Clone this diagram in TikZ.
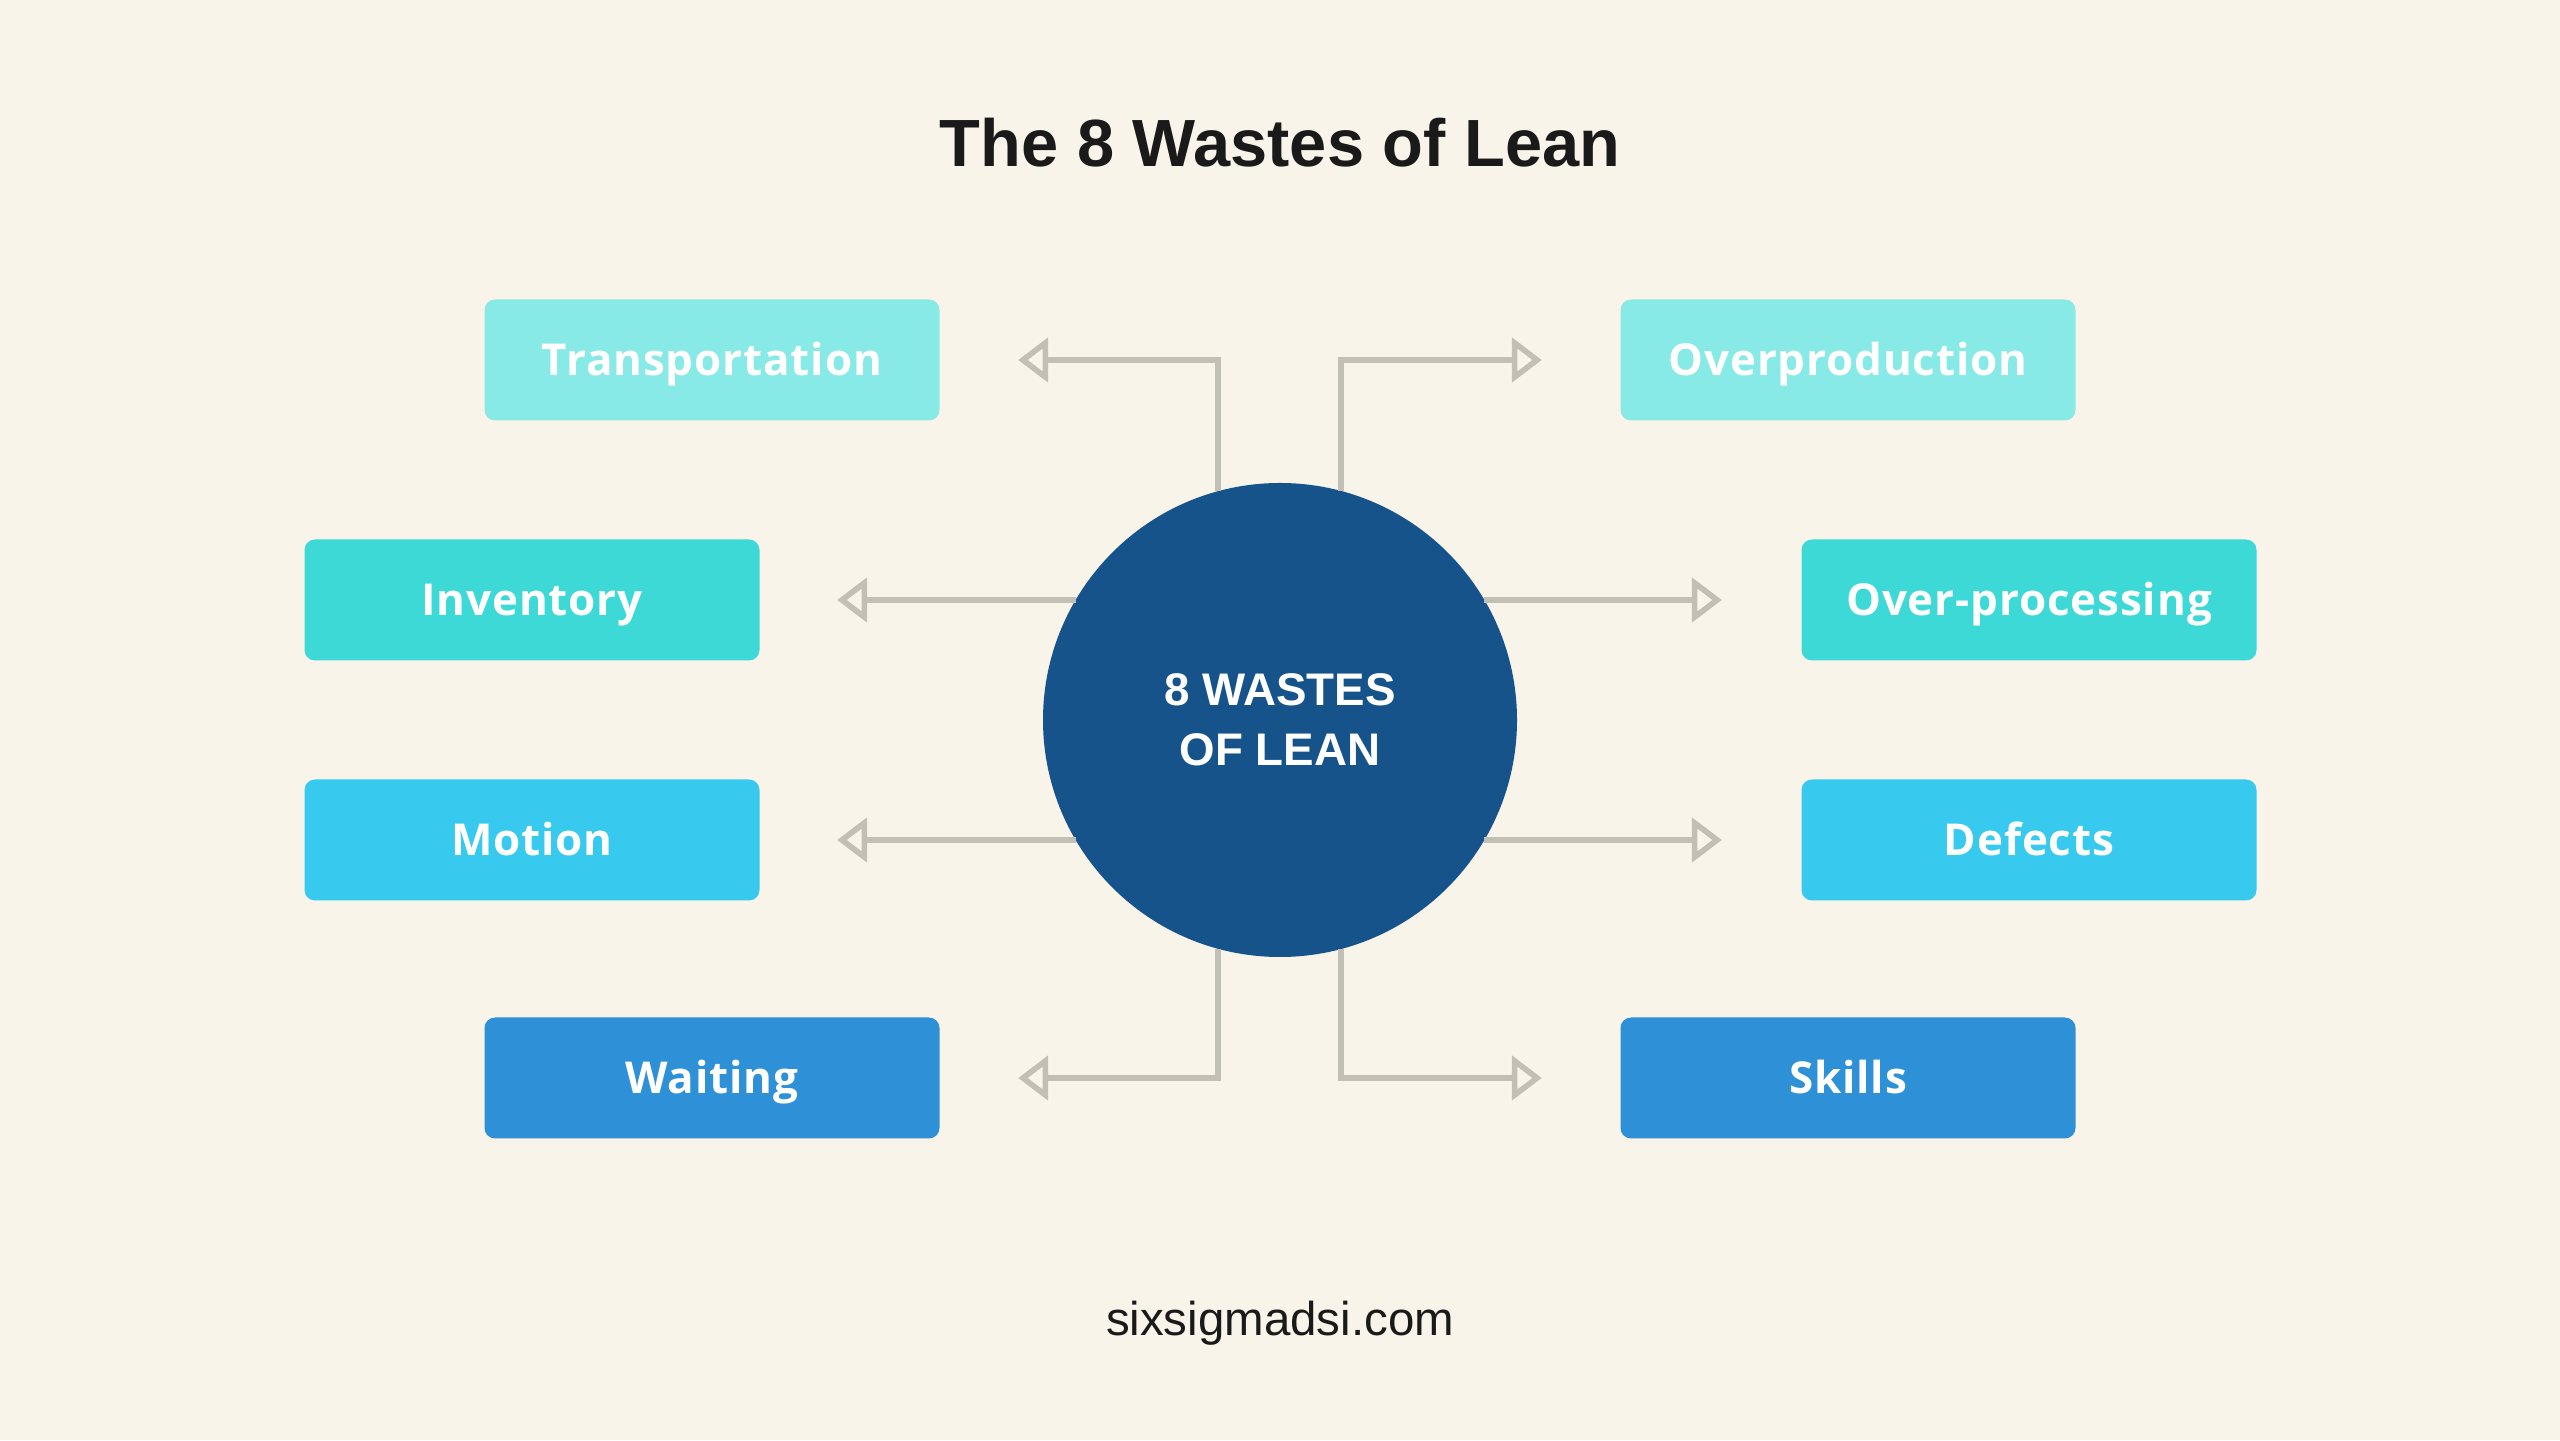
\documentclass[tikz,border=0pt]{standalone}
\usepackage{fontspec}
\setmainfont{Liberation Sans}
\newfontfamily\wastefont[LetterSpace=2]{Open Sans}
\usetikzlibrary{arrows.meta,calc}
\definecolor{paper}{HTML}{F8F4E9}
\definecolor{ink}{HTML}{1A1A1A}
\definecolor{leancore}{HTML}{16538A}
\definecolor{linkgrey}{HTML}{C2BFB5}
\definecolor{tealA}{HTML}{88EAE7}
\definecolor{tealB}{HTML}{3DD9D6}
\definecolor{skyC}{HTML}{38C9EF}
\definecolor{blueD}{HTML}{2E90D6}

\begin{document}
\begin{tikzpicture}[
    waste/.style={rectangle, rounded corners=3pt, minimum width=4.55cm, minimum height=1.21cm,
        text=white, text height=8.9pt, text depth=0pt, font=\wastefont\bfseries\fontsize{12.5}{15}\selectfont},
    link/.style={draw=linkgrey, line width=1.6pt, -{Triangle[open,length=0.3cm,width=0.44cm]}}
]
        \fill[paper] (0,0) rectangle (25.6,14.4);
        \node[anchor=base, text=ink, font=\bfseries\fontsize{19}{23}\selectfont] (title) at (12.8,12.73) {The 8 Wastes of Lean};

        \node[waste, fill=tealA] (transp) at (7.12,10.8) {Transportation};
        \node[waste, fill=tealA] (overprod) at (18.48,10.8) {Overproduction};
        \node[waste, fill=tealB] (inv) at (5.32,8.4) {Inventory};
        \node[waste, fill=tealB] (overproc) at (20.29,8.4) {Over-processing};
        \node[waste, fill=skyC] (motion) at (5.32,6.0) {Motion};
        \node[waste, fill=skyC] (defects) at (20.29,6.0) {Defects};
        \node[waste, fill=blueD] (waiting) at (7.12,3.62) {Waiting};
        \node[waste, fill=blueD] (skills) at (18.48,3.62) {Skills};

        \node[circle, fill=leancore, minimum size=4.74cm, inner sep=0pt, outer sep=0pt, text=white, align=center,
            font=\bfseries\fontsize{13}{17}\selectfont] (core) at (12.8,7.2) {8 WASTES\\OF LEAN};

        \draw[link] ($(core.center)+(-0.62,2.29)$) |- ([xshift=7.8mm]transp.east);
        \draw[link] ($(core.center)+(0.61,2.29)$) |- ([xshift=-7.8mm]overprod.west);
        \draw[link] ($(inv.east -| core.center)+(-2.04,0)$) -- ([xshift=7.7mm]inv.east);
        \draw[link] ($(overproc.west -| core.center)+(2.04,0)$) -- ([xshift=-7.9mm]overproc.west);
        \draw[link] ($(motion.east -| core.center)+(-2.04,0)$) -- ([xshift=7.7mm]motion.east);
        \draw[link] ($(defects.west -| core.center)+(2.04,0)$) -- ([xshift=-7.9mm]defects.west);
        \draw[link] ($(core.center)+(-0.62,-2.29)$) |- ([xshift=7.8mm]waiting.east);
        \draw[link] ($(core.center)+(0.61,-2.29)$) |- ([xshift=-7.8mm]skills.west);

        \node[anchor=base, text=ink, font=\fontsize{13.5}{16}\selectfont] (site) at (12.8,1.05) {sixsigmadsi.com};
\end{tikzpicture}
\end{document}
